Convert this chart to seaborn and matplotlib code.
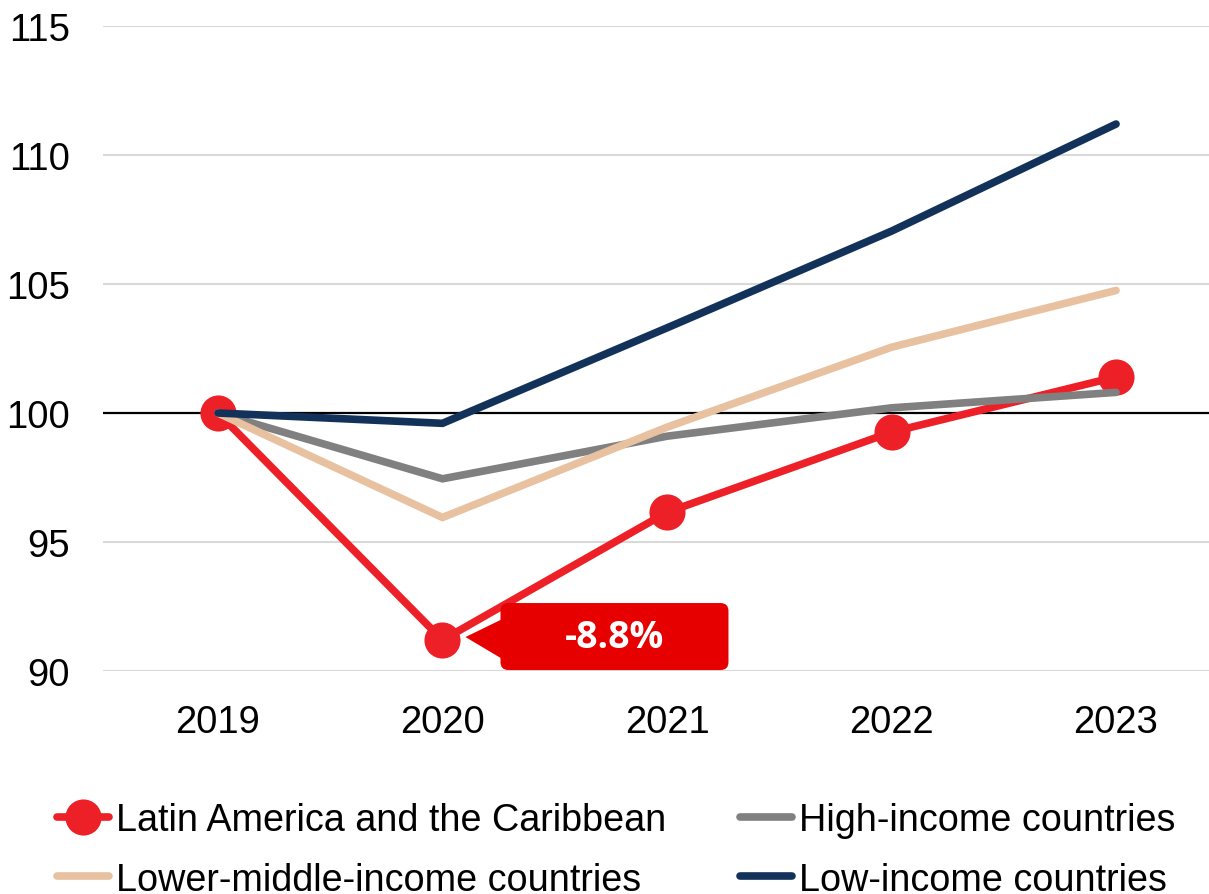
import matplotlib
matplotlib.use("Agg")
import matplotlib.pyplot as plt
import seaborn as sns
import pandas as pd
from matplotlib.patches import FancyBboxPatch, Polygon
from matplotlib.lines import Line2D

# Index values (2019 = 100)
years = [2019, 2020, 2021, 2022, 2023]
lac = [100.0, 91.2, 96.15, 99.26, 101.4]
high_income = [100.0, 97.45, 99.1, 100.2, 100.8]
lower_middle_income = [100.0, 95.95, 99.45, 102.55, 104.75]
low_income = [100.0, 99.6, 103.3, 107.05, 111.2]
yticks = [90, 95, 100, 105, 110, 115]
annotation_text = "-8.8%"

names = {
    "lac": "Latin America and the Caribbean",
    "high": "High-income countries",
    "lmi": "Lower-middle-income countries",
    "low": "Low-income countries",
}
colors = {
    "lac": "#ED2027",
    "high": "#808080",
    "lmi": "#E8C1A0",
    "low": "#13325A",
}

sns.set_theme(style="white")
plt.rcParams["font.family"] = ["Liberation Sans", "DejaVu Sans"]
plt.rcParams["text.color"] = "black"

W, H = 1209, 895
fig = plt.figure(figsize=(W / 100, H / 100), dpi=100)
ax = fig.add_axes([103 / W, 1 - 672 / H, 1 - 103 / W, (672 - 27) / H])

lw = 5.5
ms = 26
series = [("lac", lac), ("high", high_income), ("lmi", lower_middle_income), ("low", low_income)]
for z, (key, vals) in enumerate(series):
    df = pd.DataFrame({"year": years, "value": vals})
    kw = dict(marker="o", markersize=ms, markeredgewidth=0) if key == "lac" else {}
    sns.lineplot(data=df, x="year", y="value", ax=ax, color=colors[key], linewidth=lw,
                 zorder=3 + z, **kw)
for line in ax.lines:
    line.set_linewidth(lw)
    line.set_solid_capstyle("round")
    line.set_solid_joinstyle("miter")

ax.axhline(100, color="black", linewidth=1.6, zorder=2)
for t in yticks:
    if t != 100:
        ax.axhline(t, color="#D9D9D9", linewidth=1.5, zorder=1)

ax.set_xlim(years[0] - 0.512, years[0] + 4.414)
ax.set_ylim(yticks[0], yticks[-1])
ax.set_xticks(years)
ax.set_xticklabels([str(y) for y in years])
ax.set_yticks(yticks)
ax.set_xlabel("")
ax.set_ylabel("")
ax.tick_params(axis="both", length=0, labelsize=27.5, colors="black")
ax.tick_params(axis="y", pad=24)
ax.tick_params(axis="x", pad=24)
for s in ax.spines.values():
    s.set_visible(False)
ax.grid(False)

# Callout box pointing at the 2020 low of Latin America
fig.canvas.draw()
px, py = ax.transData.transform((years[1], lac[1]))
box_l, box_r = px + 58, px + 286
box_b, box_t = py - 30, py + 37
box = FancyBboxPatch((box_l, box_b), box_r - box_l, box_t - box_b,
                     boxstyle="round,pad=0,rounding_size=8", transform=None,
                     facecolor="#E60000", edgecolor="none", zorder=10)
fig.patches.append(box)
tri = Polygon([(px + 23, py + 3), (box_l + 2, py + 21), (box_l + 2, py - 19)],
              closed=True, transform=None, facecolor="#E60000", edgecolor="none", zorder=10)
fig.patches.append(tri)
fig.text((box_l + box_r) / 2 / W, (box_b + box_t) / 2 / H, annotation_text,
         ha="center", va="center", color="white", fontsize=27, fontweight="bold",
         family=["Open Sans", "DejaVu Sans"], zorder=11)

# Legend
handles = [
    Line2D([], [], color=colors["lac"], linewidth=lw, marker="o", markersize=ms,
           markeredgewidth=0, solid_capstyle="round"),
    Line2D([], [], color=colors["lmi"], linewidth=lw, solid_capstyle="round"),
    Line2D([], [], color=colors["high"], linewidth=lw, solid_capstyle="round"),
    Line2D([], [], color=colors["low"], linewidth=lw, solid_capstyle="round"),
]
labels = [names["lac"], names["lmi"], names["high"], names["low"]]
leg = fig.legend(handles, labels, loc="center left", bbox_to_anchor=(57 / W, 1 - 851 / H),
                 ncol=2, frameon=False, fontsize=27.2, handlelength=1.38,
                 handletextpad=0.18, columnspacing=1.95, labelspacing=0.62,
                 borderpad=0, borderaxespad=0)
for t in leg.get_texts():
    t.set_color("black")

fig.savefig("out.png", dpi=100)
